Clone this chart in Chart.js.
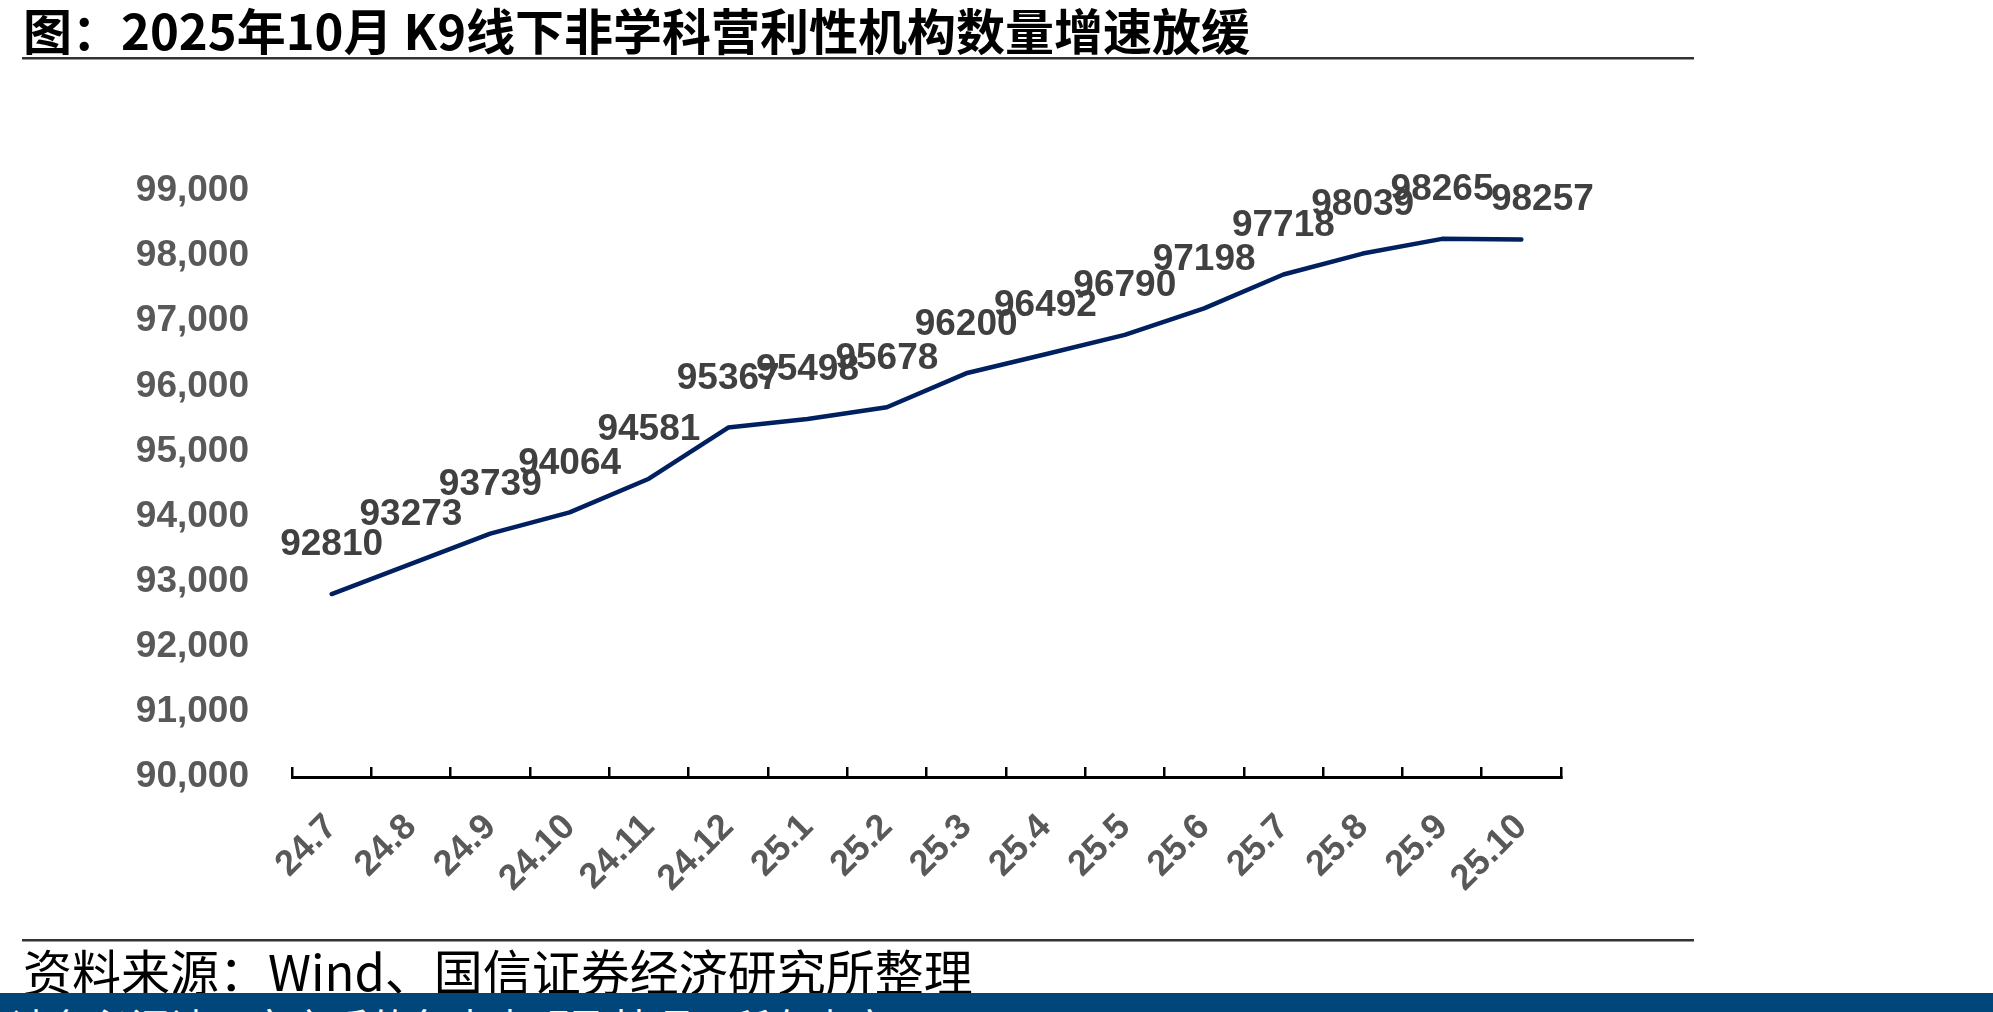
<!DOCTYPE html>
<html>
<head>
<meta charset="utf-8">
<script src="https://cdn.jsdelivr.net/npm/chart.js@4.4.0/dist/chart.umd.min.js"></script>
<style>
  body { margin: 0; width: 1993px; height: 1012px; overflow: hidden; background: #fff; position: relative; font-family: "Noto Sans CJK SC", sans-serif; }
  #chart { position: absolute; left: 0; top: 0; }
  .rule { position: absolute; left: 22px; width: 1672px; height: 2px; background: #333; border-bottom: 1px solid #999; }
  #title { position: absolute; left: 23px; top: 4px; font-size: 49px; font-weight: bold; line-height: 1; color: #000; white-space: nowrap; }
  #source { position: absolute; left: 23px; top: 945px; font-size: 49px; line-height: 1; color: #000; white-space: nowrap; }
  #band { position: absolute; left: 0; top: 993px; width: 1993px; height: 19px; background: #00467a; overflow: hidden; }
  #band span { position: absolute; left: 10px; top: 13px; font-size: 40px; line-height: 1; color: #fff; white-space: nowrap; }
</style>
</head>
<body>
<canvas id="chart" width="1993" height="1012"></canvas>
<div id="title">图：2025年10月 K9线下非学科营利性机构数量增速放缓</div>
<div class="rule" style="top:57px"></div>
<div class="rule" style="top:939px"></div>
<div id="source">资料来源：Wind、国信证券经济研究所整理</div>
<div id="band"><span>请务必阅读正文之后的免责声明及其项下所有内容</span></div>
<script>
// 月份（年.月）
const months = ["24.7", "24.8", "24.9", "24.10", "24.11", "24.12", "25.1", "25.2",
  "25.3", "25.4", "25.5", "25.6", "25.7", "25.8", "25.9", "25.10"];
// 线下非学科营利性机构数量
const counts = [92810, 93273, 93739, 94064, 94581, 95367, 95498, 95678,
  96200, 96492, 96790, 97198, 97718, 98039, 98265, 98257];
// 纵轴范围
const yMin = 90000;
const yMax = 99000;
const yStep = 1000;

const numFont = '"Liberation Sans", Arial, sans-serif';

// 数据标签（最后一个标签在原图中被手动右移）
const valueLabels = {
  id: "valueLabels",
  afterDatasetsDraw(chart) {
    const ctx = chart.ctx;
    const meta = chart.getDatasetMeta(0);
    ctx.save();
    ctx.font = "bold 37px " + numFont;
    ctx.fillStyle = "#404040";
    ctx.textAlign = "center";
    ctx.textBaseline = "middle";
    meta.data.forEach((pt, i) => {
      let dx = 0, dy = -49;
      if (i === meta.data.length - 1) { dx = 21; dy = -40; }
      ctx.fillText(String(counts[i]), pt.x + dx, pt.y + dy);
    });
    ctx.restore();
  },
};

new Chart(document.getElementById("chart"), {
  type: "line",
  data: {
    labels: months,
    datasets: [{
      data: counts,
      borderColor: "#002060",
      borderWidth: 4.5,
      borderCapStyle: "round",
      borderJoinStyle: "round",
      pointRadius: 0,
      tension: 0,
      fill: false,
    }],
  },
  options: {
    responsive: false,
    devicePixelRatio: 1,
    animation: false,
    layout: { padding: { left: 0, top: 191, right: 432, bottom: 0 } },
    plugins: { legend: { display: false }, tooltip: { enabled: false } },
    scales: {
      x: {
        offset: true,
        grid: { offset: true, drawOnChartArea: false, drawTicks: true, tickLength: -10, color: "#000", lineWidth: 2.5 },
        border: { display: true, color: "#000", width: 3 },
        ticks: {
          autoSkip: false, maxRotation: 45, minRotation: 45, padding: 39,
          color: "#595959", font: { family: numFont, size: 36, weight: "bold" },
        },
        afterFit(s) { s.height = 235; },
      },
      y: {
        min: yMin,
        max: yMax,
        grid: { display: false, drawTicks: false },
        border: { display: false },
        ticks: {
          stepSize: yStep, padding: 43,
          color: "#595959", font: { family: numFont, size: 37, weight: "bold" },
          callback: (v) => v.toLocaleString("en-US"),
        },
        afterFit(s) { s.width = 292; },
      },
    },
  },
  plugins: [valueLabels],
});
</script>
</body>
</html>
